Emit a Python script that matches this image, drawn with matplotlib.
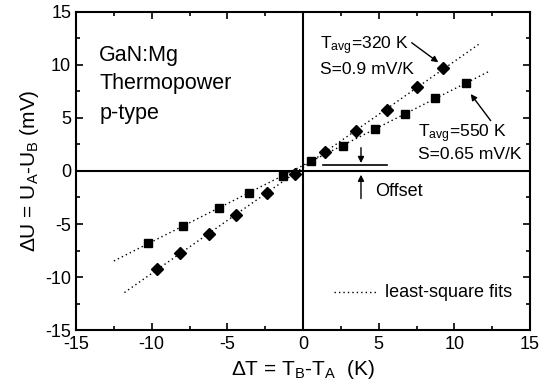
import numpy as np
import matplotlib
matplotlib.use("Agg")
import matplotlib.pyplot as plt
from matplotlib.ticker import MultipleLocator, FuncFormatter

plt.rcParams['font.family'] = ['Liberation Sans', 'DejaVu Sans']
plt.rcParams['mathtext.fontset'] = 'custom'
plt.rcParams['mathtext.rm'] = 'Liberation Sans'
plt.rcParams['mathtext.it'] = 'Liberation Sans'

# Data: T_avg = 550 K (squares)
dT_550 = [-10.26, -7.95, -5.53, -3.55, -1.34, 0.50, 2.62, 4.76, 6.77, 8.75, 10.75]
dU_550 = [-6.82, -5.16, -3.52, -2.05, -0.47, 0.90, 2.39, 3.93, 5.38, 6.89, 8.33]
# Data: T_avg = 320 K (diamonds)
dT_320 = [-9.67, -8.13, -6.23, -4.45, -2.36, -0.53, 1.48, 3.50, 5.53, 7.51, 9.23]
dU_320 = [-9.22, -7.74, -5.94, -4.18, -2.05, -0.25, 1.82, 3.74, 5.79, 7.92, 9.69]
# Fit line x extents
fit_x_550 = [-12.5, 12.4]
fit_x_320 = [-11.8, 11.6]

fig = plt.figure(figsize=(5.52, 3.90), dpi=100)
ax = fig.add_axes([0.1377, 0.1538, 0.8225, 0.8155])

dotted = (0, (1, 2.2))
for xs, ys, fx in [(dT_550, dU_550, fit_x_550), (dT_320, dU_320, fit_x_320)]:
    p = np.polyfit(xs, ys, 1)
    fx = np.array(fx)
    ax.plot(fx, np.polyval(p, fx), color='black', lw=1.0, linestyle=dotted, zorder=2)

ax.plot(dT_550, dU_550, 's', color='black', ms=6, zorder=3)
ax.plot(dT_320, dU_320, 'D', color='black', ms=6, zorder=3)

ax.axhline(0, color='black', lw=1.5, zorder=1)
ax.axvline(0, color='black', lw=1.5, zorder=1)

ax.set_xlim(-15, 15)
ax.set_ylim(-15, 15)
ax.xaxis.set_major_locator(MultipleLocator(5))
ax.yaxis.set_major_locator(MultipleLocator(5))
ax.xaxis.set_minor_locator(MultipleLocator(2.5))
ax.yaxis.set_minor_locator(MultipleLocator(2.5))
ax.tick_params(which='both', direction='in', top=True, right=True, width=1.2, labelsize=13)
ax.tick_params(which='major', length=5)
ax.tick_params(which='minor', length=3)
ax.tick_params(axis='x', pad=4)
for s in ax.spines.values():
    s.set_linewidth(1.5)
ax.xaxis.set_major_formatter(FuncFormatter(lambda v, p: f"{v:g}"))
ax.yaxis.set_major_formatter(FuncFormatter(lambda v, p: f"{v:g}"))

ax.set_xlabel(r"ΔT = T$_\mathregular{B}$-T$_\mathregular{A}$  (K)", fontsize=15, labelpad=4)
ax.set_ylabel(r"ΔU = U$_\mathregular{A}$-U$_\mathregular{B}$ (mV)", fontsize=15, labelpad=3)

fs = 15.5
ax.text(-13.46, 10.94, "GaN:Mg", fontsize=fs, va='center', ha='left')
ax.text(-13.46, 8.27, "Thermopower", fontsize=fs, va='center', ha='left')
ax.text(-13.46, 5.44, "p-type", fontsize=fs, va='center', ha='left')

fa = 12.6
ax.text(1.12, 11.8, r"T$_\mathregular{avg}$=320 K", fontsize=fa, va='center', ha='left')
ax.text(1.12, 9.62, "S=0.9 mV/K", fontsize=fa, va='center', ha='left')
ax.text(7.6, 3.55, r"T$_\mathregular{avg}$=550 K", fontsize=fa, va='center', ha='left')
ax.text(7.6, 1.6, "S=0.65 mV/K", fontsize=fa, va='center', ha='left')

arrow = dict(arrowstyle='-|>', color='black', lw=1.0, mutation_scale=9, shrinkA=0, shrinkB=0)
ax.annotate("", xy=(8.94, 10.25), xytext=(7.18, 12.1), arrowprops=arrow)
ax.annotate("", xy=(11.08, 7.26), xytext=(12.4, 4.75), arrowprops=arrow)

# Offset marker
ax.plot([1.34, 5.55], [0.57, 0.57], color='black', lw=1.2)
ax.annotate("", xy=(3.83, 0.75), xytext=(3.83, 2.2), arrowprops=arrow)
ax.annotate("", xy=(3.83, -0.35), xytext=(3.83, -2.6), arrowprops=arrow)
ax.text(4.76, -1.95, "Offset", fontsize=13, va='center', ha='left')

# legend
ax.plot([2.05, 4.9], [-11.44, -11.44], color='black', lw=1.0, linestyle=dotted)
ax.text(5.42, -11.44, "least-square fits", fontsize=13, va='center', ha='left')

fig.savefig("out.png", dpi=100)
